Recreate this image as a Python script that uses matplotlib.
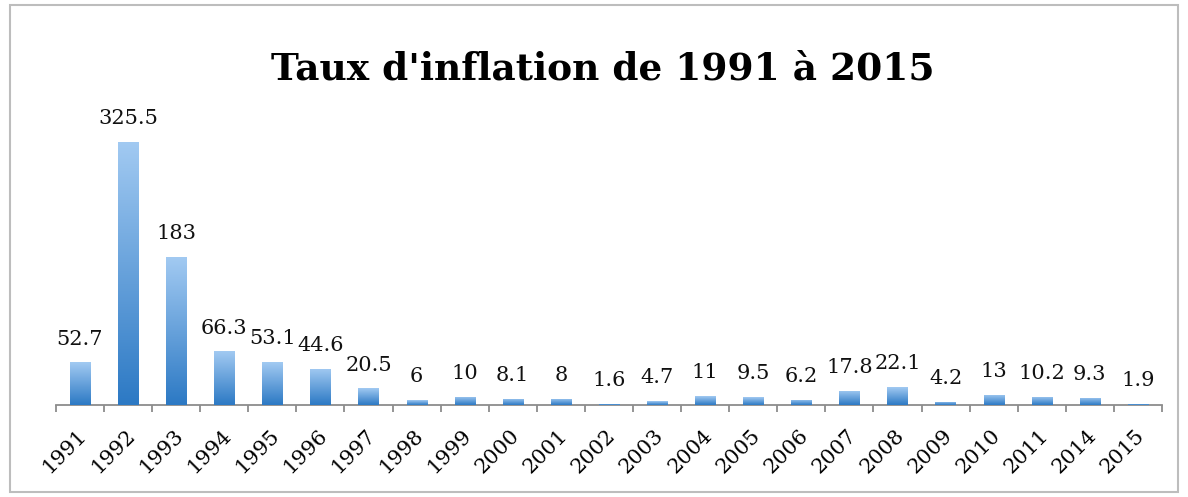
import matplotlib.pyplot as plt
import numpy as np
from matplotlib.patches import Rectangle
from matplotlib.transforms import ScaledTranslation

# données
annees = ['1991', '1992', '1993', '1994', '1995', '1996', '1997', '1998', '1999',
          '2000', '2001', '2002', '2003', '2004', '2005', '2006', '2007', '2008',
          '2009', '2010', '2011', '2014', '2015']
taux = [52.7, 325.5, 183, 66.3, 53.1, 44.6, 20.5, 6, 10, 8.1, 8, 1.6, 4.7, 11,
        9.5, 6.2, 17.8, 22.1, 4.2, 13, 10.2, 9.3, 1.9]
etiquettes = ['52.7', '325.5', '183', '66.3', '53.1', '44.6', '20.5', '6', '10',
              '8.1', '8', '1.6', '4.7', '11', '9.5', '6.2', '17.8', '22.1', '4.2',
              '13', '10.2', '9.3', '1.9']

fig = plt.figure(figsize=(11.88, 4.97), dpi=100)
ax = fig.add_axes([0.0471, 0.185, 0.931, 0.5855])

x = np.arange(len(annees))
bars = ax.bar(x, taux, width=0.42, color='#5a9ee0', zorder=2)

# dégradé vertical dans chaque barre
grad = np.linspace(1, 0, 256).reshape(-1, 1)
cmap = plt.matplotlib.colors.LinearSegmentedColormap.from_list(
    'bleu', ['#a2caf2', '#2c79c4'])
for b in bars:
    x0, w, h = b.get_x(), b.get_width(), b.get_height()
    im = ax.imshow(grad, cmap=cmap, aspect='auto', extent=(x0, x0 + w, 0, h),
                   zorder=3, origin='lower')
    im.set_clip_path(b)

ax.set_xlim(-0.5, len(annees) - 0.5)
ax.set_ylim(0, 360)

for b, lab in zip(bars, etiquettes):
    ax.annotate(lab, (b.get_x() + b.get_width() / 2, b.get_height()),
                xytext=(0, 10), textcoords='offset points', ha='center', va='bottom',
                fontsize=15, family='DejaVu Serif', color='#111111')

for s in ['left', 'right', 'top']:
    ax.spines[s].set_visible(False)
ax.spines['bottom'].set_color('#8c8c8c')
ax.spines['bottom'].set_linewidth(1.3)
ax.set_yticks([])

ax.set_xticks(np.arange(-0.5, len(annees)), minor=False)
ax.set_xticklabels([])
ax.tick_params(axis='x', which='major', length=5, color='#8c8c8c', width=1.3)
ax.set_xticks(x, minor=True)
ax.set_xticklabels(annees, minor=True, rotation=45, ha='right', va='top',
                   rotation_mode='anchor', fontsize=15, family='DejaVu Serif')
ax.tick_params(axis='x', which='minor', length=0, pad=15)
decal = ScaledTranslation(-0.03, 0, fig.dpi_scale_trans)
for t in ax.get_xticklabels(minor=True):
    t.set_transform(t.get_transform() + decal)

fig.text(0.507, 0.862, "Taux d'inflation de 1991 à 2015", ha='center', va='center',
         fontsize=27, fontweight='bold', family='DejaVu Serif')

fig.patches.append(Rectangle((10 / 1188, 5 / 497), 1168 / 1188, 487 / 497,
                             transform=fig.transFigure, fill=False,
                             edgecolor='#bdbdbd', linewidth=1.5))

plt.savefig('out.png', dpi=100)
